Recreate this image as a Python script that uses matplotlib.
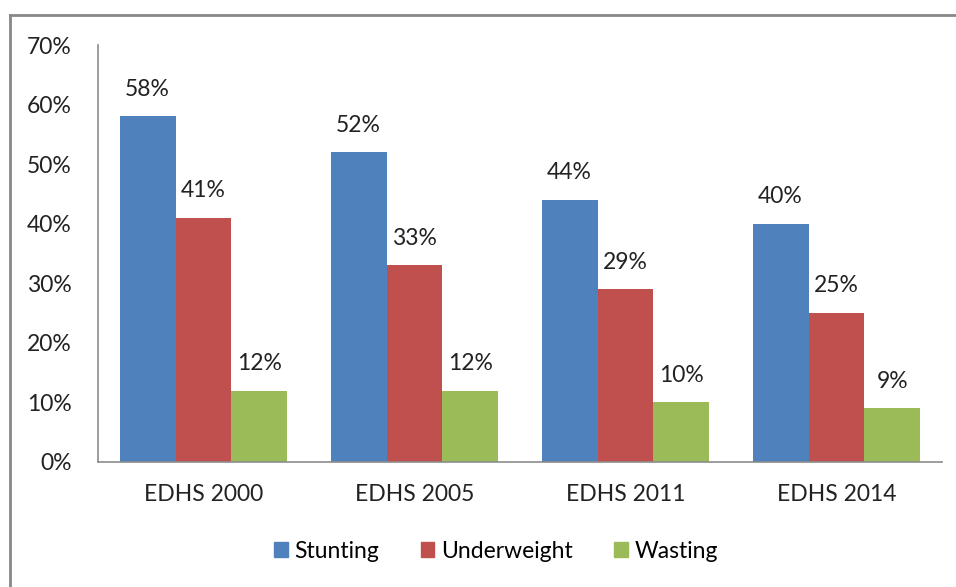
import matplotlib
matplotlib.use("Agg")
import matplotlib.pyplot as plt
import numpy as np
from matplotlib.patches import Rectangle
from matplotlib.lines import Line2D

categories = ["EDHS 2000", "EDHS 2005", "EDHS 2011", "EDHS 2014"]
series_names = ["Stunting", "Underweight", "Wasting"]
stunting = [58, 52, 44, 40]
underweight = [41, 33, 29, 25]
wasting = [12, 12, 10, 9]
colors = ["#4F81BD", "#C0504D", "#9BBB59"]
yticks = [0, 10, 20, 30, 40, 50, 60, 70]

plt.rcParams['font.family'] = ['Lato', 'DejaVu Sans']
FS = 16.5

W, H = 956, 587
fig = plt.figure(figsize=(W/100, H/100), dpi=100)
ax = fig.add_axes([98/W, 1-462/H, (942-98)/W, (462-45)/H])

x = np.arange(len(categories))
bw = 0.265
for i, (vals, c) in enumerate(zip([stunting, underweight, wasting], colors)):
    pos = x + (i-1)*bw
    ax.bar(pos, vals, width=bw, color=c, label=series_names[i])
    for px, v in zip(pos, vals):
        ax.annotate(f"{v}%", (px, v), xytext=(0, 12), textcoords="offset points",
                    ha="center", va="bottom", fontsize=FS, color="#222222")

ax.set_xlim(-0.5, 3.5)
ax.set_ylim(0, 70)
ax.set_yticks(yticks)
ax.set_yticklabels([f"{t}%" for t in yticks], fontsize=FS, color="#222222")
ax.set_xticks(x)
ax.set_xticklabels(categories, fontsize=FS, color="#222222")
ax.tick_params(axis='both', length=0)
ax.tick_params(axis='y', pad=19)
ax.tick_params(axis='x', pad=16)
for s in ["top", "right"]:
    ax.spines[s].set_visible(False)
for s in ["left", "bottom"]:
    ax.spines[s].set_color("#8C8C8C")
    ax.spines[s].set_linewidth(1.2)

handles = [Rectangle((0, 0), 1, 1, color=c) for c in colors]
fig.legend(handles, series_names, loc="center", bbox_to_anchor=(496/W, 1-551/H),
           ncol=3, frameon=False, fontsize=FS, handlelength=0.6, handleheight=0.6,
           columnspacing=1.8, handletextpad=0.3)

fig.add_artist(Line2D([10/W, 10/W], [0, 1-15/H], transform=fig.transFigure, color="#888888", lw=2))
fig.add_artist(Line2D([10/W, 1], [1-15/H, 1-15/H], transform=fig.transFigure, color="#888888", lw=2))

fig.savefig("out.png", dpi=100)
